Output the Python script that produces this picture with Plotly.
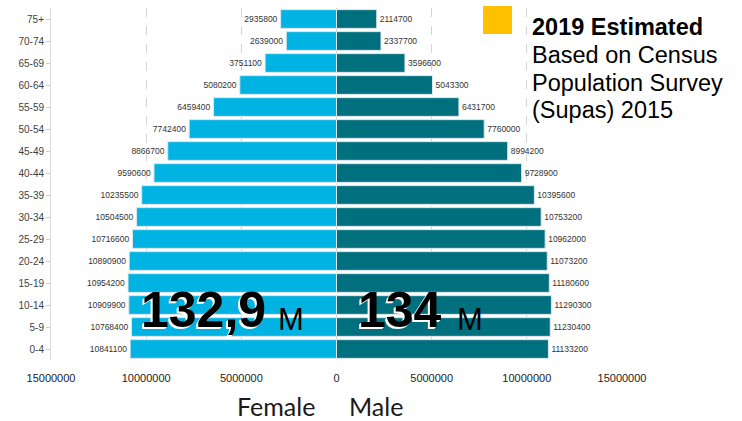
import plotly.graph_objects as go

# Population by five-year age group, youngest first
age_groups = ["0-4", "5-9", "10-14", "15-19", "20-24", "25-29", "30-34", "35-39",
              "40-44", "45-49", "50-54", "55-59", "60-64", "65-69", "70-74", "75+"]
female = [10841100, 10768400, 10909900, 10954200, 10890900, 10716600, 10504500, 10235500,
          9590600, 8866700, 7742400, 6459400, 5080200, 3751100, 2639000, 2935800]
male = [11133200, 11230400, 11290300, 11180600, 11073200, 10962000, 10753200, 10395600,
        9728900, 8994200, 7760000, 6431700, 5043300, 3596600, 2337700, 2114700]

tick_values = [-15000000, -10000000, -5000000, 0, 5000000, 10000000, 15000000]
tick_labels = ["15000000", "10000000", "5000000", "0", "5000000", "10000000", "15000000"]

female_total = "132,9"
male_total = "134"
note_title = "2019 Estimated"
note_lines = ["Based on Census", "Population Survey", "(Supas) 2015"]

W, H = 742, 421
L, R, T, B = 51, 120, 8, 61
PW, PH = W - L - R, H - T - B


def px(x):
    return (x - L) / PW


def py(y):
    return (H - B - y) / PH


FEMALE_COLOR = "#00B3E3"
MALE_COLOR = "#00707F"
EDGE = "#dde6ea"
value_font = dict(family="Liberation Sans", size=8.5, color="#333333")

fig = go.Figure()
fig.add_trace(go.Bar(
    y=age_groups, x=[-v for v in female], orientation="h", name="Female",
    marker=dict(color=FEMALE_COLOR, line=dict(color=EDGE, width=1)),
    text=[str(v) for v in female], textposition="outside", textfont=value_font,
    cliponaxis=False, hoverinfo="skip",
))
fig.add_trace(go.Bar(
    y=age_groups, x=male, orientation="h", name="Male",
    marker=dict(color=MALE_COLOR, line=dict(color=EDGE, width=1)),
    text=[str(v) for v in male], textposition="outside", textfont=value_font,
    cliponaxis=False, hoverinfo="skip",
))

annotations = []
big_font = dict(family="Liberation Sans", size=50, color="black", weight="bold",
                shadow="-2px 2px 0px white, -1px 1px 0px white")
m_font = dict(family="Liberation Sans", size=31, color="black")
annotations += [
    dict(text=female_total, x=px(268), y=py(310), xanchor="right", yanchor="middle", font=big_font),
    dict(text="M", x=px(276), y=py(319), xanchor="left", yanchor="middle", font=m_font),
    dict(text=male_total, x=px(444), y=py(310), xanchor="right", yanchor="middle", font=big_font),
    dict(text="M", x=px(455), y=py(319), xanchor="left", yanchor="middle", font=m_font),
]

note_font = dict(family="Liberation Sans", size=23.5, color="black")
annotations.append(dict(text="<b>" + note_title + "</b>", x=px(530), y=py(26.8),
                        xanchor="left", yanchor="middle", font=note_font))
for i, line in enumerate(note_lines):
    annotations.append(dict(text=line, x=px(530), y=py(55 + 27.7 * i),
                            xanchor="left", yanchor="middle", font=note_font))

sex_font = dict(family="Lato", size=25, color="#1a1a1a")
annotations += [
    dict(text="Female", x=px(276), y=py(406), xanchor="center", yanchor="middle",
         borderpad=0, font=sex_font),
    dict(text="Male", x=px(376), y=py(406), xanchor="center", yanchor="middle",
         borderpad=0, font=sex_font),
]
for a in annotations:
    a.update(xref="paper", yref="paper", showarrow=False)

fig.update_layout(
    width=W, height=H,
    margin=dict(l=L, r=R, t=T, b=B),
    paper_bgcolor="white", plot_bgcolor="white",
    barmode="overlay", bargap=0.15, showlegend=False,
    annotations=annotations,
    shapes=[dict(type="rect", xref="paper", yref="paper",
                 x0=px(483), x1=px(512), y0=py(34), y1=py(6),
                 fillcolor="#FFC000", line=dict(width=0))],
    xaxis=dict(range=[-15000000, 15000000], tickvals=tick_values, ticktext=tick_labels,
               showgrid=True, gridcolor="#d4d4d4", griddash="dash", gridwidth=1,
               zeroline=False, showline=False, ticks="",
               tickfont=dict(family="Liberation Sans", size=11, color="#222222"),
               ticklabelstandoff=10, fixedrange=True),
    yaxis=dict(type="category", categoryorder="array", categoryarray=age_groups,
               showline=True, linecolor="#d9d9d9", linewidth=1,
               ticks="outside", ticklen=4, tickcolor="#cccccc",
               tickfont=dict(family="Liberation Sans", size=10, color="#404040"),
               showgrid=False, zeroline=False, fixedrange=True),
)

fig.write_html("out.html")
